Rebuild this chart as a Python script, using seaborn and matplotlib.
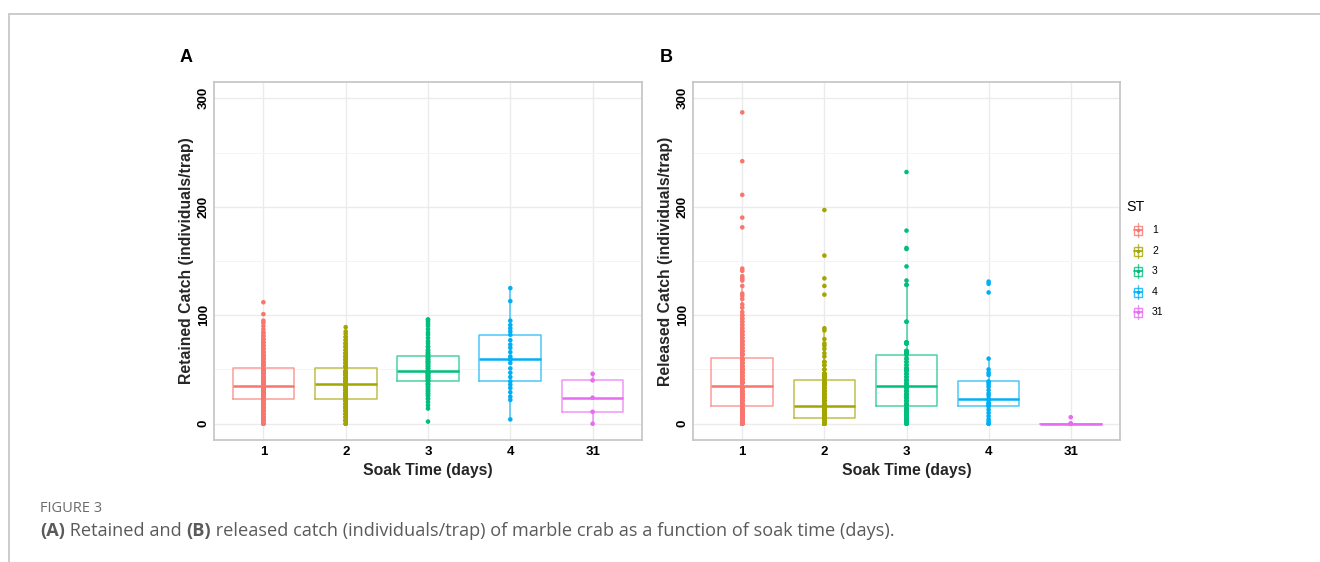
import numpy as np
import pandas as pd
import matplotlib
matplotlib.use("Agg")
import matplotlib.pyplot as plt
import seaborn as sns
from matplotlib.patches import Rectangle
from matplotlib.lines import Line2D
from matplotlib.ticker import FixedLocator

# ---------------- data ----------------
soak_times = ["1", "2", "3", "4", "31"]
st_colors = ["#F8766D", "#A3A500", "#00BF7D", "#00B0F6", "#E76BF3"]

# Retained catch (individuals/trap): distinct values and how many traps had each
ret_1_vals = [0, 3, 6, 9, 12, 15, 18, 21, 23, 25, 27, 29, 31, 33, 35, 37, 40, 43, 46, 49, 51,
              54, 57, 60, 63, 66, 69, 72, 75, 78, 81, 84, 87, 90, 93, 95, 101, 112]
ret_1_cnts = [4, 5, 6, 6, 7, 7, 7, 8, 1, 10, 10, 10, 10, 9, 1, 10, 10, 10, 10, 9, 1,
              7, 6, 5, 5, 4, 4, 3, 3, 3, 2, 2, 1, 1, 1, 1, 1, 1]
ret_2_vals = [0, 3, 6, 9, 12, 15, 18, 21, 23, 25, 28, 31, 34, 37, 39, 42, 45, 48, 51,
              53, 56, 59, 62, 65, 68, 71, 74, 77, 80, 83, 85, 89]
ret_2_cnts = [3, 4, 4, 5, 5, 6, 6, 7, 1, 10, 10, 10, 9, 1, 10, 10, 10, 9, 1,
              6, 5, 5, 4, 4, 3, 3, 3, 2, 2, 1, 1, 1]
ret_3_vals = [2, 14, 17, 20, 23, 26, 28, 30, 32, 34, 36, 37, 39, 40, 42, 44, 46, 47, 49,
              51, 53, 55, 57, 59, 61, 62, 64, 66, 68, 71, 74, 76, 79, 82, 84, 87, 90, 92, 94, 96]
ret_3_cnts = [1, 1, 1, 1, 2, 2, 2, 2, 2, 2, 2, 2, 1, 4, 4, 4, 4, 3, 1,
              3, 3, 3, 4, 3, 3, 1, 3, 2, 2, 2, 1, 1, 1, 1, 1, 1, 1, 1, 1, 2]
ret_4_vals = [4, 22, 25, 29, 33, 36, 39, 43, 47, 51, 56, 59, 60, 62, 66, 70, 73, 77, 82,
              85, 88, 91, 95, 113, 125]
ret_4_cnts = [1] * 25
ret_31_vals = [0, 11, 24, 40, 46]
ret_31_cnts = [1, 1, 1, 1, 1]

# Released catch (individuals/trap)
rel_1_vals = [0, 2, 4, 6, 8, 10, 12, 14, 16, 18, 21, 24, 27, 30, 33, 35,
              38, 41, 44, 47, 50, 53, 56, 59, 61,
              64, 67, 70, 73, 76, 79, 82, 85, 88, 91, 94, 97, 100, 103, 107,
              110, 115, 118, 120, 127, 132, 134, 136, 141, 143, 181, 190, 211, 242, 287]
rel_1_cnts = [10, 8, 8, 7, 7, 7, 7, 6, 1, 10, 10, 10, 10, 10, 9, 1,
              8, 8, 8, 7, 7, 7, 7, 7, 1,
              6, 6, 4, 4, 4, 3, 3, 3, 2, 2, 2, 2, 2, 1, 1,
              1, 1, 1, 1, 1, 1, 1, 1, 1, 1, 1, 1, 1, 1, 1]
rel_2_vals = [0, 1, 2, 3, 4, 5, 6, 8, 10, 12, 14, 16, 18, 21, 24, 27, 30, 33, 36, 38, 40,
              42, 44, 46, 50, 54, 57, 62, 65, 69, 72, 74, 78, 86, 88, 119, 127, 134, 155, 197]
rel_2_cnts = [12, 8, 7, 7, 6, 1, 8, 8, 8, 8, 7, 1, 5, 5, 5, 5, 5, 5, 5, 4, 1,
              9, 7, 5, 2, 2, 2, 1, 1, 1, 1, 1, 1, 1, 1, 1, 1, 1, 1, 1]
rel_3_vals = [0, 2, 4, 6, 8, 10, 12, 14, 16, 18, 21, 24, 27, 30, 33, 35,
              37, 40, 43, 46, 49, 51, 54, 57, 60, 63,
              65, 67, 74, 75, 94, 128, 132, 145, 161, 162, 178, 232]
rel_3_cnts = [4, 3, 3, 3, 3, 3, 3, 3, 1, 4, 4, 4, 4, 4, 4, 1,
              3, 3, 3, 3, 3, 3, 2, 2, 2, 1,
              5, 4, 3, 3, 2, 2, 1, 1, 1, 1, 1, 1]
rel_4_vals = [0, 2, 4, 7, 10, 13, 16, 17, 19, 22, 23, 26, 28, 31, 34, 36, 38, 39,
              45, 47, 50, 60, 121, 129, 131]
rel_4_cnts = [2, 1, 1, 1, 1, 1, 1, 2, 2, 2, 1, 1, 1, 1, 1, 1, 1, 1,
              1, 1, 1, 1, 1, 1, 1]
rel_31_vals = [0, 6]
rel_31_cnts = [4, 1]

y_ticks = [0, 100, 200, 300]
y_minor = [50, 150, 250]

retained = {"1": (ret_1_vals, ret_1_cnts), "2": (ret_2_vals, ret_2_cnts),
            "3": (ret_3_vals, ret_3_cnts), "4": (ret_4_vals, ret_4_cnts),
            "31": (ret_31_vals, ret_31_cnts)}
released = {"1": (rel_1_vals, rel_1_cnts), "2": (rel_2_vals, rel_2_cnts),
            "3": (rel_3_vals, rel_3_cnts), "4": (rel_4_vals, rel_4_cnts),
            "31": (rel_31_vals, rel_31_cnts)}


def to_frame(groups):
    rows = []
    for st in soak_times:
        vals, cnts = groups[st]
        for v in np.repeat(vals, cnts):
            rows.append((st, float(v)))
    return pd.DataFrame(rows, columns=["ST", "catch"])


df_ret = to_frame(retained)
df_rel = to_frame(released)

# ---------------- style ----------------
sns.set_theme(style="white")
plt.rcParams["font.family"] = ["Liberation Sans", "DejaVu Sans"]

W, H = 1320, 562
fig = plt.figure(figsize=(W / 100, H / 100), dpi=100)
fig.patch.set_facecolor("white")

pal = dict(zip(soak_times, st_colors))


def panel(rect, df, ylabel):
    ax = fig.add_axes(rect)
    sns.boxplot(data=df, x="ST", y="catch", hue="ST", order=soak_times,
                hue_order=soak_times, palette=pal, fill=False, width=0.75,
                showcaps=False, showfliers=False, linewidth=1.1, legend=False,
                dodge=False, ax=ax,
                boxprops=dict(alpha=0.7), whiskerprops=dict(alpha=0.7),
                medianprops=dict(linewidth=1.8))
    sns.stripplot(data=df, x="ST", y="catch", hue="ST", order=soak_times,
                  hue_order=soak_times, palette=pal, jitter=False, size=3.3,
                  linewidth=0, legend=False, dodge=False, ax=ax, zorder=3)
    ax.set_xlim(-0.6, 4.6)
    ax.set_ylim(-15, 315)
    ax.set_yticks(y_ticks)
    ax.yaxis.set_minor_locator(FixedLocator(y_minor))
    ax.set_axisbelow(True)
    ax.grid(which="major", color="#ebebeb", linewidth=1.0)
    ax.grid(which="minor", axis="y", color="#f4f4f4", linewidth=0.7)
    ax.tick_params(which="minor", length=0)
    ax.tick_params(which="major", length=2.5, width=0.8, color="#444444",
                   pad=2, labelsize=9.5, labelcolor="black")
    ax.tick_params(axis="y", pad=0.5)
    for lab in ax.get_yticklabels():
        lab.set_rotation(90)
        lab.set_va("center")
        lab.set_fontweight("bold")
    for lab in ax.get_xticklabels():
        lab.set_fontweight("bold")
    for s in ax.spines.values():
        s.set_color("#c4c4c4")
        s.set_linewidth(1.2)
    ax.set_xlabel("Soak Time (days)", fontsize=11.3, fontweight="bold", labelpad=3.5)
    ax.set_ylabel(ylabel, fontsize=11.3, fontweight="bold", labelpad=2.5)
    return ax


axA = panel([214 / W, 1 - 440 / H, 428 / W, 358 / H], df_ret,
            "Retained Catch (individuals/trap)")
axB = panel([693 / W, 1 - 440 / H, 427 / W, 358 / H], df_rel,
            "Released Catch (individuals/trap)")

# ---------------- overlay (pixel coordinates) ----------------
ov = fig.add_axes([0, 0, 1, 1])
ov.set_xlim(0, W)
ov.set_ylim(H, 0)
ov.axis("off")

# page frame
ov.add_line(Line2D([9, W], [14, 14], color="#c8c8c8", lw=1.3))
ov.add_line(Line2D([9, 9], [14, H], color="#c8c8c8", lw=1.3))

# panel letters
ov.text(186, 58, "A", fontsize=13, fontweight="bold", ha="center", va="center",
        color="black")
ov.text(666, 58, "B", fontsize=13, fontweight="bold", ha="center", va="center",
        color="black")

# legend
ov.text(1126, 207, "ST", fontsize=10.3, ha="left", va="center", color="black")
leg_y = [230, 251, 271, 292, 312]
for st, col, yy in zip(soak_times, st_colors, leg_y):
    ov.add_line(Line2D([1138, 1138], [yy - 7, yy + 7], color=col, lw=1.0, alpha=0.7))
    ov.add_patch(Rectangle((1134, yy - 4.5), 8, 9, fill=True, facecolor="white",
                           edgecolor=col, lw=1.0, alpha=0.8))
    ov.add_line(Line2D([1134, 1142], [yy, yy], color=col, lw=1.2))
    ov.plot([1138], [yy], marker="o", ms=2.6, color=col, mew=0)
    ov.text(1152, yy, st, fontsize=7.5, ha="left", va="center", color="black")

# caption
cap_font = ["Open Sans", "DejaVu Sans"]
ov.text(40, 508, "FIGURE 3", fontsize=10.5, color="#6b6b6b", ha="left", va="center",
        family=cap_font)
pieces = [("(A)", "bold"), (" Retained and ", "normal"), ("(B)", "bold"),
          (" released catch (individuals/trap) of marble crab as a function of soak time (days).",
           "normal")]
renderer = fig.canvas.get_renderer()
x = 40
for txt, wt in pieces:
    t = ov.text(x, 531, txt, fontsize=13.1, fontweight=wt, color="#5a5a5a",
                ha="left", va="center", family=cap_font)
    bb = t.get_window_extent(renderer=renderer)
    x += bb.width

fig.savefig("out.png", dpi=100, facecolor="white")
